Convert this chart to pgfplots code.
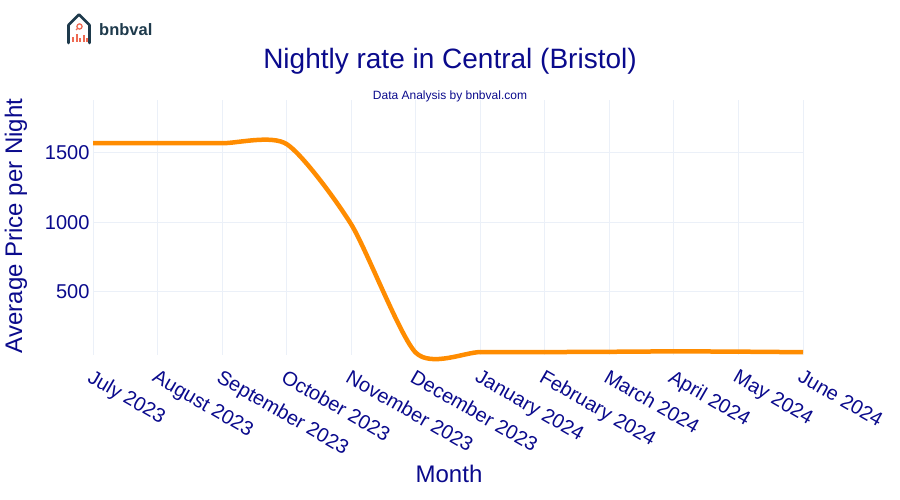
\documentclass[border=0pt]{standalone}
\usepackage{pgfplots}
\pgfplotsset{compat=1.18}
\usepackage{fontspec}
\setmainfont{Liberation Sans}
\definecolor{navy}{HTML}{0A0A8C}
\definecolor{gridc}{HTML}{EBF0F8}
\definecolor{lineor}{HTML}{FF8C00}
\definecolor{logodk}{HTML}{1E3A4C}
\definecolor{logoor}{HTML}{EE6A52}

\pgfplotstableread{
x  price
0  1568
1  1568
2  1568
3  1562
4  985
5  62
6  66
7  66
8  68
9  71
10 69
11 65
}\rates

\begin{document}
\begin{tikzpicture}[x=1pt,y=1pt]
\useasboundingbox (0,0) rectangle (900,500);

% logo
\draw[logodk, line width=2.6pt, line join=round, line cap=round]
  (68.5,457) -- (68.5,475) -- (79,485.5) -- (89.5,475) -- (89.5,457);
\foreach \bx/\bh in {73/5,76.5/8,80/4,83.5/7,86.5/4}
  \fill[logoor] (\bx-1,457.5) rectangle (\bx+1,457.5+\bh);
\draw[logoor, line width=1.3pt] (79.5,473.5) circle (2.6);
\draw[logoor, line width=1.3pt] (77.7,471.7) -- (76,470);
\node[anchor=west, logodk, font=\fontsize{16.5}{20}\selectfont\bfseries, inner sep=0pt]
  at (99,470) {bnbval};

% titles
\node[navy, font=\fontsize{28}{32}\selectfont] at (450,439) {Nightly rate in Central (Bristol)};
\node[navy, font=\fontsize{12}{14}\selectfont] at (450,404) {Data Analysis by bnbval.com};
\node[navy, font=\fontsize{24}{28}\selectfont, rotate=90] at (16,274) {Average Price per Night};
\node[navy, font=\fontsize{24}{28}\selectfont] at (449,26) {Month};

\begin{axis}[
  at={(93pt,145pt)}, anchor=south west,
  width=710pt, height=255pt, scale only axis,
  xmin=0, xmax=11, ymin=45, ymax=1879,
  axis line style={draw=none},
  major tick style={draw=none},
  grid=major,
  grid style={gridc, line width=1pt},
  xtick={0,...,11},
  xticklabels={July 2023,August 2023,September 2023,October 2023,November 2023,December 2023,January 2024,February 2024,March 2024,April 2024,May 2024,June 2024},
  xticklabel style={rotate=-30, anchor=north west, navy, font=\fontsize{20}{22}\selectfont, xshift=4pt, yshift=-8pt},
  ytick={500,1000,1500},
  yticklabel style={navy, font=\fontsize{20}{22}\selectfont},
  /pgf/number format/assume math mode=true,
  /pgf/number format/1000 sep={},
  clip=false,
]
\addplot[lineor, line width=4.5pt, smooth, tension=0.42] table[x=x, y=price] {\rates};
\end{axis}
\end{tikzpicture}
\end{document}
